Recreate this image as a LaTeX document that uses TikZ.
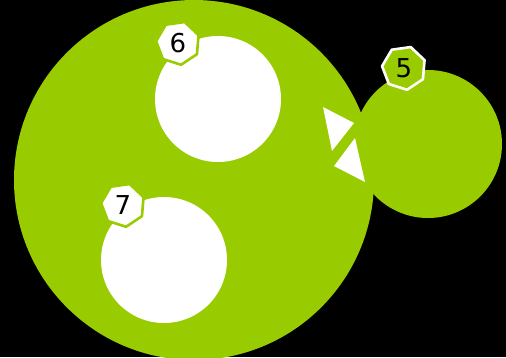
\documentclass[tikz,border=0pt]{standalone}
\usepackage{fontspec}
\setmainfont{DejaVu Sans}
\usetikzlibrary{shapes.geometric}
\definecolor{leaf}{HTML}{99CC00}
\begin{document}
\begin{tikzpicture}[
        x=1pt,y=-1pt,
        badge/.style={regular polygon,regular polygon sides=7,shape border rotate=180,
            minimum size=44pt,inner sep=0pt,line width=2.6pt,
            font=\fontsize{26}{26}\selectfont},
        wedge/.style={fill=white},
        line join=round
    ]
    \fill[black] (0,0) rectangle (506,357);
    \useasboundingbox (0,0) rectangle (506,357);
    % sets
    \fill[leaf] (194,180) circle (180);
    \fill[leaf] (428,144) circle (74);
    \fill[white] (218,99) circle (63);
    \fill[white] (164,260) circle (63);
    % arrow heads between the sets
    \fill[wedge] (323,107) -- (354,123) -- (332,151) -- cycle;
    \fill[wedge] (355,138) -- (334,166) -- (365,182) -- cycle;
    % labels
    \node[badge,draw=leaf,fill=white,rotate=8] (six) at (178,43) {\rotatebox{-8}{6}};
    \node[badge,draw=leaf,fill=white,rotate=8] (seven) at (123,205) {\rotatebox{-8}{7}};
    \node[badge,draw=white,fill=leaf,rotate=8] (five) at (404,68) {\rotatebox{-8}{5}};
\end{tikzpicture}
\end{document}
